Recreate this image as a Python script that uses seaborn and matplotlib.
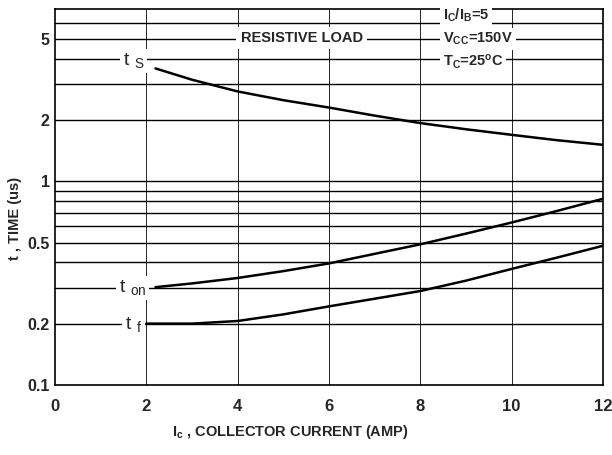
import pandas as pd
import numpy as np
import matplotlib
matplotlib.use('Agg')
import matplotlib.pyplot as plt
import matplotlib.ticker as mticker
import seaborn as sns

sns.set_style('white')
plt.rcParams['font.family'] = ['Liberation Sans', 'DejaVu Sans']
plt.rcParams['mathtext.fontset'] = 'custom'
plt.rcParams['mathtext.rm'] = 'Liberation Sans:bold'
plt.rcParams['mathtext.it'] = 'Liberation Sans:bold'
plt.rcParams['mathtext.bf'] = 'Liberation Sans:bold'

# Datos (Ic en A, tiempo en us)
ic_ts = [2.2, 3.0, 4.0, 5.0, 6.0, 7.0, 8.0, 9.0, 10.0, 11.0, 12.0]
t_s = [3.58, 3.15, 2.76, 2.50, 2.30, 2.10, 1.93, 1.80, 1.69, 1.59, 1.51]

ic_ton = [2.2, 3.0, 4.0, 5.0, 6.0, 7.0, 8.0, 9.0, 10.0, 11.0, 12.0]
t_on = [0.302, 0.315, 0.335, 0.362, 0.395, 0.440, 0.490, 0.553, 0.627, 0.715, 0.82]

ic_tf = [2.0, 3.0, 4.0, 5.0, 6.0, 7.0, 8.0, 9.0, 10.0, 11.0, 12.0]
t_f = [0.200, 0.200, 0.206, 0.222, 0.243, 0.265, 0.289, 0.325, 0.371, 0.422, 0.482]

y_ticks = [0.1, 0.2, 0.5, 1, 2, 5]
y_labels = ['0.1', '0.2', '0.5', '1', '2', '5']
y_grid = [0.2, 0.3, 0.4, 0.5, 0.6, 0.7, 0.8, 0.9, 1, 2, 3, 4, 5, 6]
x_ticks = [0, 2, 4, 6, 8, 10, 12]

df = pd.concat([
    pd.DataFrame({'ic': ic_ts, 't': t_s, 'curva': 'ts'}),
    pd.DataFrame({'ic': ic_ton, 't': t_on, 'curva': 'ton'}),
    pd.DataFrame({'ic': ic_tf, 't': t_f, 'curva': 'tf'}),
])

fig = plt.figure(figsize=(6.12, 4.55), dpi=100)
ax = fig.add_axes([0.09, 0.154, 0.895, 0.826])
ax.set_yscale('log')
ax.set_xlim(0, 12)
ax.set_ylim(0.1, 7.0)

# Rejilla horizontal y vertical
for y in y_grid:
    ax.axhline(y, color='black', lw=1.0, zorder=1)
for x in x_ticks[1:-1]:
    ax.axvline(x, color='black', lw=0.6, zorder=1)

sns.lineplot(data=df, x='ic', y='t', units='curva', estimator=None,
             color='black', lw=1.8, ax=ax, zorder=3)

ax.yaxis.set_major_locator(mticker.FixedLocator(y_ticks))
ax.yaxis.set_major_formatter(mticker.FixedFormatter(y_labels))
ax.yaxis.set_minor_locator(mticker.NullLocator())
ax.set_xticks(x_ticks)
ax.tick_params(axis='x', length=0, labelsize=12, pad=10)
ax.tick_params(axis='y', length=0, labelsize=11.5, pad=4)
for lab in ax.get_xticklabels() + ax.get_yticklabels():
    lab.set_fontweight('bold')

for s in ax.spines.values():
    s.set_color('black')
    s.set_linewidth(1.2)

box = dict(facecolor='white', edgecolor='none', pad=2)
ax.text(1.72, 3.9, r't $_\mathregular{S}$', fontsize=14, ha='center', va='center',
        bbox=box, zorder=4)
ax.text(1.7, 0.30, r't $_\mathregular{on}$', fontsize=14, ha='center', va='center',
        bbox=box, zorder=4)
ax.text(1.72, 0.197, r't $_\mathregular{f}$', fontsize=14, ha='center', va='center',
        bbox=box, zorder=4)

ax.text(5.4, 5.05, 'RESISTIVE LOAD', fontsize=10.5, fontweight='bold', ha='center',
        va='center', bbox=dict(facecolor='white', edgecolor='none', pad=3), zorder=4)
ax.text(8.5, 6.55, r'I$_\mathregular{C}$/I$_\mathregular{B}$=5', fontsize=10.5,
        fontweight='bold', ha='left', va='center', bbox=box, zorder=4)
ax.text(8.5, 5.0, r'V$_\mathregular{CC}$=150V', fontsize=10.5, fontweight='bold',
        ha='left', va='center', bbox=box, zorder=4)
ax.text(8.5, 3.85, r'T$_\mathregular{C}$=25$^\mathregular{o}$C', fontsize=10.5,
        fontweight='bold', ha='left', va='center', bbox=box, zorder=4)

ax.set_xlabel('')
ax.set_ylabel('')
fig.text(290 / 612, 1 - 432 / 455, r'I$_\mathregular{c}$ , COLLECTOR CURRENT (AMP)',
         fontsize=10.5, fontweight='bold', ha='center', va='center')
fig.text(15 / 612, 1 - 218 / 455, 't , TIME (us)', fontsize=10.5, fontweight='bold',
         ha='center', va='center', rotation=90)

fig.savefig('out.png', dpi=100)
